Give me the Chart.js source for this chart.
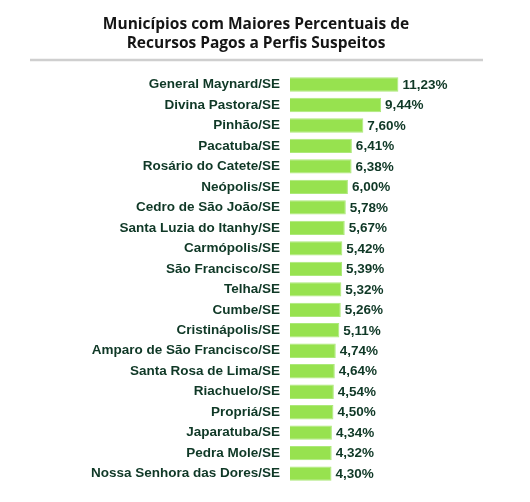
<!DOCTYPE html>
<html>
<head>
<meta charset="utf-8">
<script src="https://cdn.jsdelivr.net/npm/chart.js@4"></script>
<style>
  body { margin: 0; background: #fff; }
  #wrap { width: 530px; height: 502px; position: relative; }
</style>
</head>
<body>
<div id="wrap"><canvas id="bar-chart"></canvas></div>
<script>
const municipios = [
  "General Maynard/SE", "Divina Pastora/SE", "Pinhão/SE", "Pacatuba/SE",
  "Rosário do Catete/SE", "Neópolis/SE", "Cedro de São João/SE",
  "Santa Luzia do Itanhy/SE", "Carmópolis/SE", "São Francisco/SE",
  "Telha/SE", "Cumbe/SE", "Cristinápolis/SE", "Amparo de São Francisco/SE",
  "Santa Rosa de Lima/SE", "Riachuelo/SE", "Propriá/SE", "Japaratuba/SE",
  "Pedra Mole/SE", "Nossa Senhora das Dores/SE"
];
const percentuais = [
  11.23, 9.44, 7.60, 6.41, 6.38, 6.00, 5.78, 5.67, 5.42, 5.39,
  5.32, 5.26, 5.11, 4.74, 4.64, 4.54, 4.50, 4.34, 4.32, 4.30
];
const tituloLinhas = [
  "Municípios com Maiores Percentuais de",
  "Recursos Pagos a Perfis Suspeitos"
];

const textColor = "#0f3826";

// value labels next to each bar + gray rule under the title
const extras = {
  id: "extras",
  afterDatasetsDraw(chart) {
    const ctx = chart.ctx;
    ctx.save();
    ctx.font = "bold 13.5px 'Liberation Sans', Arial, sans-serif";
    ctx.fillStyle = textColor;
    ctx.textAlign = "left";
    ctx.textBaseline = "middle";
    chart.getDatasetMeta(0).data.forEach((bar, i) => {
      const txt = percentuais[i].toFixed(2).replace(".", ",") + "%";
      ctx.fillText(txt, bar.x + 4, bar.y + 0.5);
    });
    ctx.strokeStyle = "#cfcfcf";
    ctx.lineWidth = 2.5;
    ctx.beginPath();
    ctx.moveTo(30, 60);
    ctx.lineTo(483, 60);
    ctx.stroke();
    ctx.restore();
  }
};

new Chart(document.getElementById("bar-chart"), {
  type: "bar",
  data: {
    labels: municipios,
    datasets: [{
      data: percentuais,
      backgroundColor: "#97e24f",
      borderColor: "#ace97a",
      borderWidth: 1,
      barPercentage: 0.7,
      categoryPercentage: 1
    }]
  },
  options: {
    indexAxis: "y",
    responsive: true,
    maintainAspectRatio: false,
    animation: false,
    layout: { padding: { left: 0, right: 18, top: 0, bottom: 18 } },
    plugins: {
      legend: { display: false },
      tooltip: { enabled: false },
      title: {
        display: true,
        text: tituloLinhas,
        color: "#151515",
        font: { family: "'Open Sans', sans-serif", size: 15.5, weight: "bold", lineHeight: 1.17 },
        padding: { top: 16, bottom: 22 }
      }
    },
    scales: {
      x: {
        display: false,
        min: 0,
        max: 23
      },
      y: {
        grid: { display: false, drawTicks: false },
        border: { display: false },
        ticks: {
          color: textColor,
          padding: 10,
          font: { family: "'Liberation Sans', Arial, sans-serif", size: 13.5, weight: "bold" }
        },
        afterFit(scale) { scale.width = 290; }
      }
    }
  },
  plugins: [extras]
});
</script>
</body>
</html>
